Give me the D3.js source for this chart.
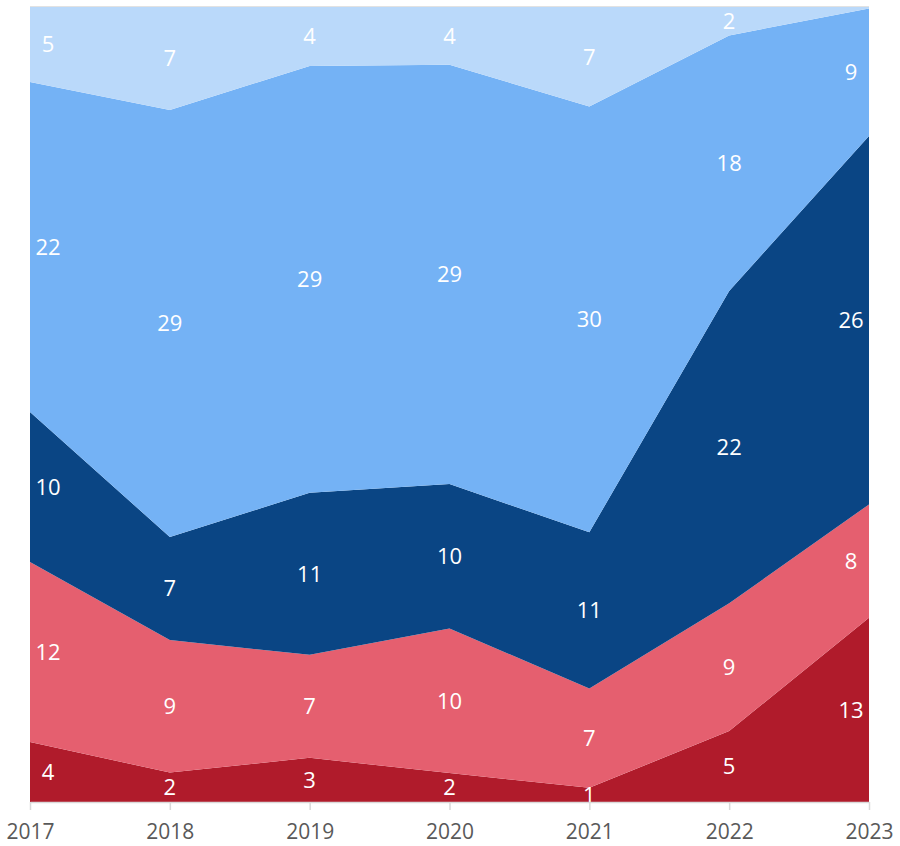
<!DOCTYPE html>
<html>
<head>
<meta charset="utf-8">
<script src="https://cdn.jsdelivr.net/npm/d3@7"></script>
<style>
  body { margin: 0; background: #fff; }
  svg { display: block; }
</style>
</head>
<body>
<svg id="chart" width="900" height="846"></svg>
<script>
// Years along the x axis
const years = ["2017", "2018", "2019", "2020", "2021", "2022", "2023"];

// Series, listed bottom to top of the stack
const darkRed   = [4, 2, 3, 2, 1, 5, 13];
const lightRed  = [12, 9, 7, 10, 7, 9, 8];
const darkBlue  = [10, 7, 11, 10, 11, 22, 26];
const midBlue   = [22, 29, 29, 29, 30, 18, 9];
const lightBlue = [5, 7, 4, 4, 7, 2, 0.1];

const seriesNames  = ["darkRed", "lightRed", "darkBlue", "midBlue", "lightBlue"];
const seriesValues = [darkRed, lightRed, darkBlue, midBlue, lightBlue];
const seriesColors = ["#B01B2B", "#E55F6F", "#0A4584", "#74B2F5", "#BAD9FA"];

const rows = years.map((yr, i) => {
  const r = { year: yr };
  seriesNames.forEach((n, k) => r[n] = seriesValues[k][i]);
  return r;
});

const svg = d3.select("#chart");
const plotLeft = 30, plotRight = 869, plotTop = 7, plotBottom = 802;
const fontStack = "'Open Sans', 'Noto Sans', sans-serif";

const x = d3.scalePoint().domain(years).range([plotLeft, plotRight]);
const y = d3.scaleLinear().domain([0, 1]).range([plotBottom, plotTop]);

// Normalised (100%) stack
const stack = d3.stack().keys(seriesNames).offset(d3.stackOffsetExpand);
const layers = stack(rows);

const area = d3.area()
  .x(d => x(d.data.year))
  .y0(d => y(d[0]))
  .y1(d => y(d[1]));

// 100% gridline
svg.append("line")
  .attr("x1", plotLeft).attr("x2", plotRight)
  .attr("y1", y(1)).attr("y2", y(1))
  .attr("stroke", "#d9d9d9").attr("stroke-width", 1.5);

svg.append("g").selectAll("path")
  .data(layers)
  .join("path")
  .attr("d", area)
  .attr("fill", (d, i) => seriesColors[i]);

// Value labels centred in each band; end columns nudged inwards
const labelG = svg.append("g")
  .attr("font-family", fontStack)
  .attr("font-size", 22)
  .attr("fill", "#fff")
  .attr("text-anchor", "middle");

layers.forEach((layer, k) => {
  layer.forEach((d, i) => {
    const v = seriesValues[k][i];
    if (v < 0.5) return;
    let lx = x(d.data.year);
    if (i === 0) lx += 18;
    if (i === years.length - 1) lx -= 18;
    labelG.append("text")
      .attr("x", lx)
      .attr("y", y((d[0] + d[1]) / 2))
      .attr("dy", "0.36em")
      .text(Math.round(v));
  });
});

// X axis
const axis = svg.append("g")
  .attr("transform", `translate(0,${plotBottom})`)
  .call(d3.axisBottom(x).tickSize(8).tickPadding(14).tickSizeOuter(0));
axis.select(".domain").attr("stroke", "#d9d9d9").attr("stroke-width", 1.5);
axis.selectAll(".tick line").attr("stroke", "#d9d9d9").attr("stroke-width", 1.5);
axis.selectAll(".tick text")
  .attr("fill", "#595959")
  .attr("font-size", 21)
  .attr("font-family", fontStack);
</script>
</body>
</html>
